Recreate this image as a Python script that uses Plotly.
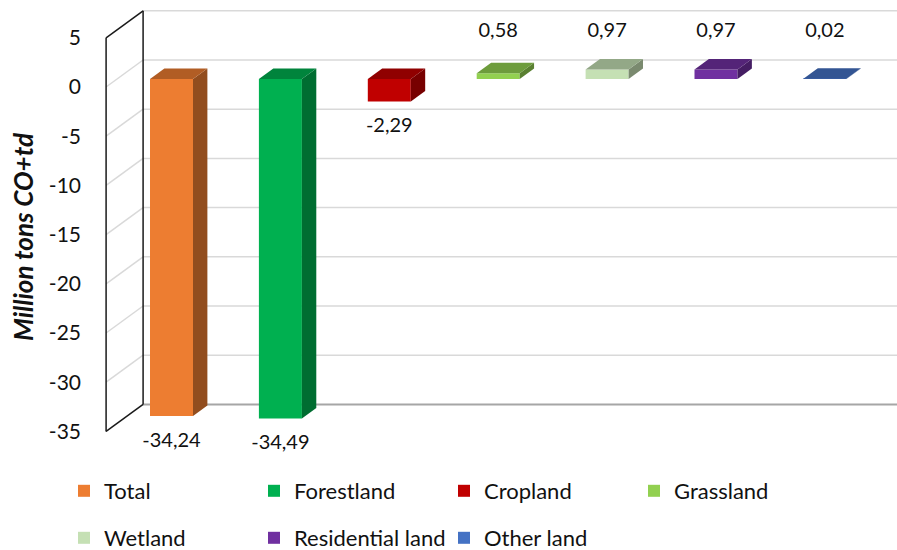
import plotly.graph_objects as go

# ---- data ----
categories = ["Total", "Forestland", "Cropland", "Grassland",
              "Wetland", "Residential land", "Other land"]
values = [-34.24, -34.49, -2.29, 0.58, 0.97, 0.97, 0.02]
colors = ["#ED7D31", "#00B050", "#C00000", "#92D050",
          "#C5E0B4", "#7030A0", "#4472C4"]
y_ticks = [5, 0, -5, -10, -15, -20, -25, -30, -35]
y_title = "Million tons CO+td"
legend_rows = [categories[:4], categories[4:]]

# ---- layout geometry (pixels) ----
W, H = 897, 550
PLOT_LEFT = 100          # left edge of the plotting area
X0_PX, CAT_PX = 171.5, 108.9   # first category centre, category pitch
Y0_PX, UNIT_PX = 79.0, 9.84    # zero line of bar plane, pixels per unit
WALL_DX_PX, WALL_DY_PX = 37.0, 27.0   # oblique depth of the 3-D box
FONT = "Lato"

x_range = [(PLOT_LEFT - X0_PX) / CAT_PX, (W - X0_PX) / CAT_PX]
y_range = [(Y0_PX - H) / UNIT_PX, Y0_PX / UNIT_PX]

# depth vector (t = 0 front plane, t = 1 back wall) in data units
DX = WALL_DX_PX / CAT_PX
DY = WALL_DY_PX / UNIT_PX
T_FRONT = 8.0 / 27.0      # depth of bar front faces
T_BACK = 18.5 / 27.0      # depth of bar back faces
BAR_W = 43.0 / CAT_PX

U_WALL = -0.5
U_END = len(categories) - 0.5
V_TOP, V_BOT = max(y_ticks), min(y_ticks)


def pt(u, v, t):
    """Project (lateral u, value v, depth t) into bar-plane axis units."""
    return u + (t - T_FRONT) * DX, v + (t - T_FRONT) * DY


def shade(hex_color, k):
    h = hex_color.lstrip("#")
    r, g, b = (int(h[i:i + 2], 16) for i in (0, 2, 4))
    return "#%02X%02X%02X" % (int(r * k), int(g * k), int(b * k))


def fmt(v):
    return f"{v:.2f}".replace(".", ",")


shapes = []


def seg(p, q, color, width):
    shapes.append(dict(type="line", xref="x", yref="y", layer="below",
                       x0=p[0], y0=p[1], x1=q[0], y1=q[1],
                       line=dict(color=color, width=width)))


# gridlines: left wall diagonals + back wall horizontals
for v in y_ticks:
    if v == V_BOT:
        seg(pt(U_WALL, v, 1), pt(U_END + 1, v, 1), "#A6A6A6", 2)
    else:
        seg(pt(U_WALL, v, 1), pt(U_END + 1, v, 1), "#D9D9D9", 1.5)
    if v not in (V_TOP, V_BOT):
        seg(pt(U_WALL, v, 0), pt(U_WALL, v, 1), "#D9D9D9", 1.5)

# wall outline
edge = "#1A1A1A"
seg(pt(U_WALL, V_TOP, 0), pt(U_WALL, V_BOT, 0), edge, 1.5)
seg(pt(U_WALL, V_TOP, 1), pt(U_WALL, V_BOT, 1), edge, 1.5)
seg(pt(U_WALL, V_TOP, 0), pt(U_WALL, V_TOP, 1), edge, 1.5)
seg(pt(U_WALL, V_BOT, 0), pt(U_WALL, V_BOT, 1), edge, 1.5)

fig = go.Figure()

bdx = (T_BACK - T_FRONT) * DX
bdy = (T_BACK - T_FRONT) * DY

for i, (cat, v, c) in enumerate(zip(categories, values, colors)):
    xl, xr = i - BAR_W / 2, i + BAR_W / 2
    top = max(v, 0)
    # right side face
    fig.add_trace(go.Scatter(
        x=[xr, xr, xr + bdx, xr + bdx, xr], y=[0, v, v + bdy, bdy, 0],
        mode="lines", fill="toself", fillcolor=shade(c, 0.62),
        line=dict(width=0, color=shade(c, 0.62)),
        showlegend=False, hoverinfo="skip"))
    # top face
    fig.add_trace(go.Scatter(
        x=[xl, xr, xr + bdx, xl + bdx, xl],
        y=[top, top, top + bdy, top + bdy, top],
        mode="lines", fill="toself", fillcolor=shade(c, 0.75),
        line=dict(width=0, color=shade(c, 0.75)),
        showlegend=False, hoverinfo="skip"))
    # front face
    fig.add_trace(go.Bar(
        x=[i], y=[v], width=BAR_W, name=cat,
        marker=dict(color=c, line=dict(width=0)),
        legend="legend" if cat in legend_rows[0] else "legend2"))

# value labels
lab_y = [v - 2.6 if v < 0 else 4.75 for v in values]
fig.add_trace(go.Scatter(
    x=list(range(len(values))), y=lab_y, text=[fmt(v) for v in values],
    mode="text", textposition="middle center",
    textfont=dict(family=FONT, size=20, color="#111111"),
    showlegend=False, hoverinfo="skip", cliponaxis=False))

legend_common = dict(orientation="h", entrywidth=145, entrywidthmode="pixels",
                     font=dict(family=FONT, size=22, color="#111111"),
                     bgcolor="rgba(0,0,0,0)", xanchor="left", yanchor="middle",
                     xref="container", yref="container",
                     x=64 / W, traceorder="normal")

fig.update_layout(
    width=W, height=H,
    margin=dict(l=PLOT_LEFT, r=0, t=0, b=0, pad=0, autoexpand=False),
    paper_bgcolor="white", plot_bgcolor="white",
    showlegend=True, barmode="overlay",
    xaxis=dict(range=x_range, visible=False, fixedrange=True),
    yaxis=dict(range=y_range, showgrid=False, zeroline=False, showline=False,
               ticks="", tickvals=[v - T_FRONT * DY for v in y_ticks],
               ticktext=[str(v) for v in y_ticks], ticklabelstandoff=18,
               tickfont=dict(family=FONT, size=21, color="#111111"),
               fixedrange=True),
    shapes=shapes,
    legend=dict(legend_common, y=1 - 491 / H),
    legend2=dict(legend_common, y=1 - 538 / H),
    annotations=[dict(text=y_title, xref="paper", yref="paper",
                      x=-(PLOT_LEFT - 23) / (W - PLOT_LEFT), y=1 - 237 / H,
                      xanchor="center", yanchor="middle", textangle=-90,
                      showarrow=False,
                      font=dict(family=FONT, size=26, color="#111111",
                                weight="bold", style="italic"))],
)

fig.write_html("out.html")
